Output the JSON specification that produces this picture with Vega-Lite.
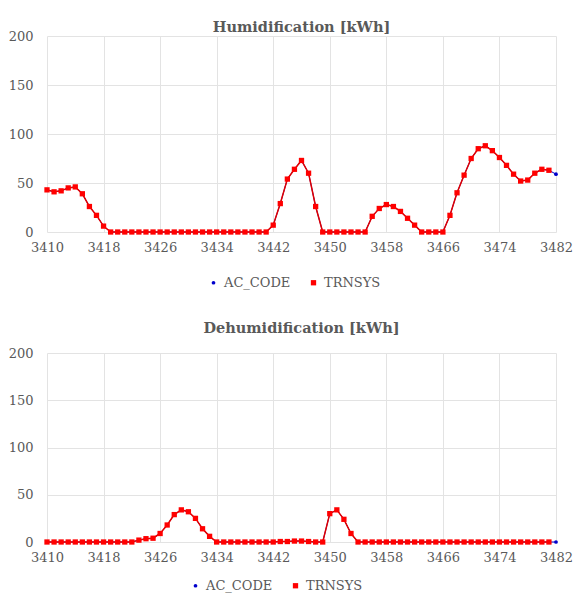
{
  "$schema": "https://vega.github.io/schema/vega-lite/v6.json",
  "background": "white",
  "padding": {"left": 8, "top": 19, "right": 18, "bottom": 4},
  "spacing": 30,
  "config": {
    "font": "DejaVu Serif",
    "view": {"stroke": null},
    "axis": {"labelFont": "DejaVu Serif", "labelFontSize": 13, "labelColor": "#595959", "ticks": false, "gridColor": "#e3e3e3", "gridWidth": 1, "title": null, "labelFlush": false},
    "legend": {"labelFont": "DejaVu Serif", "labelFontSize": 13, "labelColor": "#595959"},
    "title": {"font": "DejaVu Serif", "fontSize": 14.5, "fontWeight": "bold", "color": "#595959", "anchor": "middle"}
  },
  "datasets": {
    "hum": [
      {"h":3410,"AC_CODE":43,"TRNSYS":43},{"h":3411,"AC_CODE":41,"TRNSYS":41},{"h":3412,"AC_CODE":42,"TRNSYS":42},{"h":3413,"AC_CODE":45,"TRNSYS":45},
      {"h":3414,"AC_CODE":46,"TRNSYS":46},{"h":3415,"AC_CODE":39,"TRNSYS":39},{"h":3416,"AC_CODE":26,"TRNSYS":26},{"h":3417,"AC_CODE":17,"TRNSYS":17},
      {"h":3418,"AC_CODE":6,"TRNSYS":6},{"h":3419,"AC_CODE":0,"TRNSYS":0},{"h":3420,"AC_CODE":0,"TRNSYS":0},{"h":3421,"AC_CODE":0,"TRNSYS":0},
      {"h":3422,"AC_CODE":0,"TRNSYS":0},{"h":3423,"AC_CODE":0,"TRNSYS":0},{"h":3424,"AC_CODE":0,"TRNSYS":0},{"h":3425,"AC_CODE":0,"TRNSYS":0},
      {"h":3426,"AC_CODE":0,"TRNSYS":0},{"h":3427,"AC_CODE":0,"TRNSYS":0},{"h":3428,"AC_CODE":0,"TRNSYS":0},{"h":3429,"AC_CODE":0,"TRNSYS":0},
      {"h":3430,"AC_CODE":0,"TRNSYS":0},{"h":3431,"AC_CODE":0,"TRNSYS":0},{"h":3432,"AC_CODE":0,"TRNSYS":0},{"h":3433,"AC_CODE":0,"TRNSYS":0},
      {"h":3434,"AC_CODE":0,"TRNSYS":0},{"h":3435,"AC_CODE":0,"TRNSYS":0},{"h":3436,"AC_CODE":0,"TRNSYS":0},{"h":3437,"AC_CODE":0,"TRNSYS":0},
      {"h":3438,"AC_CODE":0,"TRNSYS":0},{"h":3439,"AC_CODE":0,"TRNSYS":0},{"h":3440,"AC_CODE":0,"TRNSYS":0},{"h":3441,"AC_CODE":0,"TRNSYS":0},
      {"h":3442,"AC_CODE":7,"TRNSYS":7},{"h":3443,"AC_CODE":29,"TRNSYS":29},{"h":3444,"AC_CODE":54,"TRNSYS":54},{"h":3445,"AC_CODE":64,"TRNSYS":64},
      {"h":3446,"AC_CODE":73,"TRNSYS":73},{"h":3447,"AC_CODE":60,"TRNSYS":60},{"h":3448,"AC_CODE":26,"TRNSYS":26},{"h":3449,"AC_CODE":0,"TRNSYS":0},
      {"h":3450,"AC_CODE":0,"TRNSYS":0},{"h":3451,"AC_CODE":0,"TRNSYS":0},{"h":3452,"AC_CODE":0,"TRNSYS":0},{"h":3453,"AC_CODE":0,"TRNSYS":0},
      {"h":3454,"AC_CODE":0,"TRNSYS":0},{"h":3455,"AC_CODE":0,"TRNSYS":0},{"h":3456,"AC_CODE":16,"TRNSYS":16},{"h":3457,"AC_CODE":24,"TRNSYS":24},
      {"h":3458,"AC_CODE":28,"TRNSYS":28},{"h":3459,"AC_CODE":26,"TRNSYS":26},{"h":3460,"AC_CODE":21,"TRNSYS":21},{"h":3461,"AC_CODE":14,"TRNSYS":14},
      {"h":3462,"AC_CODE":7,"TRNSYS":7},{"h":3463,"AC_CODE":0,"TRNSYS":0},{"h":3464,"AC_CODE":0,"TRNSYS":0},{"h":3465,"AC_CODE":0,"TRNSYS":0},
      {"h":3466,"AC_CODE":0,"TRNSYS":0},{"h":3467,"AC_CODE":17,"TRNSYS":17},{"h":3468,"AC_CODE":40,"TRNSYS":40},{"h":3469,"AC_CODE":58,"TRNSYS":58},
      {"h":3470,"AC_CODE":75,"TRNSYS":75},{"h":3471,"AC_CODE":85,"TRNSYS":85},{"h":3472,"AC_CODE":88,"TRNSYS":88},{"h":3473,"AC_CODE":83,"TRNSYS":83},
      {"h":3474,"AC_CODE":76,"TRNSYS":76},{"h":3475,"AC_CODE":68,"TRNSYS":68},{"h":3476,"AC_CODE":59,"TRNSYS":59},{"h":3477,"AC_CODE":52,"TRNSYS":52},
      {"h":3478,"AC_CODE":53,"TRNSYS":53},{"h":3479,"AC_CODE":60,"TRNSYS":60},{"h":3480,"AC_CODE":64,"TRNSYS":64},{"h":3481,"AC_CODE":63,"TRNSYS":63},
      {"h":3482,"AC_CODE":59,"TRNSYS":null}
    ],
    "dehum": [
      {"h":3410,"AC_CODE":0,"TRNSYS":0},{"h":3411,"AC_CODE":0,"TRNSYS":0},{"h":3412,"AC_CODE":0,"TRNSYS":0},{"h":3413,"AC_CODE":0,"TRNSYS":0},
      {"h":3414,"AC_CODE":0,"TRNSYS":0},{"h":3415,"AC_CODE":0,"TRNSYS":0},{"h":3416,"AC_CODE":0,"TRNSYS":0},{"h":3417,"AC_CODE":0,"TRNSYS":0},
      {"h":3418,"AC_CODE":0,"TRNSYS":0},{"h":3419,"AC_CODE":0,"TRNSYS":0},{"h":3420,"AC_CODE":0,"TRNSYS":0},{"h":3421,"AC_CODE":0,"TRNSYS":0},
      {"h":3422,"AC_CODE":0,"TRNSYS":0},{"h":3423,"AC_CODE":2,"TRNSYS":2},{"h":3424,"AC_CODE":3.5,"TRNSYS":3.5},{"h":3425,"AC_CODE":4,"TRNSYS":4},
      {"h":3426,"AC_CODE":9,"TRNSYS":9},{"h":3427,"AC_CODE":18,"TRNSYS":18},{"h":3428,"AC_CODE":29,"TRNSYS":29},{"h":3429,"AC_CODE":34,"TRNSYS":34},
      {"h":3430,"AC_CODE":32,"TRNSYS":32},{"h":3431,"AC_CODE":25,"TRNSYS":25},{"h":3432,"AC_CODE":14,"TRNSYS":14},{"h":3433,"AC_CODE":6,"TRNSYS":6},
      {"h":3434,"AC_CODE":0,"TRNSYS":0},{"h":3435,"AC_CODE":0,"TRNSYS":0},{"h":3436,"AC_CODE":0,"TRNSYS":0},{"h":3437,"AC_CODE":0,"TRNSYS":0},
      {"h":3438,"AC_CODE":0,"TRNSYS":0},{"h":3439,"AC_CODE":0,"TRNSYS":0},{"h":3440,"AC_CODE":0,"TRNSYS":0},{"h":3441,"AC_CODE":0,"TRNSYS":0},
      {"h":3442,"AC_CODE":0,"TRNSYS":0},{"h":3443,"AC_CODE":0.5,"TRNSYS":0.5},{"h":3444,"AC_CODE":0.5,"TRNSYS":0.5},{"h":3445,"AC_CODE":1,"TRNSYS":1},
      {"h":3446,"AC_CODE":1,"TRNSYS":1},{"h":3447,"AC_CODE":0.5,"TRNSYS":0.5},{"h":3448,"AC_CODE":0,"TRNSYS":0},{"h":3449,"AC_CODE":0,"TRNSYS":0},
      {"h":3450,"AC_CODE":30,"TRNSYS":30},{"h":3451,"AC_CODE":34,"TRNSYS":34},{"h":3452,"AC_CODE":24,"TRNSYS":24},{"h":3453,"AC_CODE":9,"TRNSYS":9},
      {"h":3454,"AC_CODE":0,"TRNSYS":0},{"h":3455,"AC_CODE":0,"TRNSYS":0},{"h":3456,"AC_CODE":0,"TRNSYS":0},{"h":3457,"AC_CODE":0,"TRNSYS":0},
      {"h":3458,"AC_CODE":0,"TRNSYS":0},{"h":3459,"AC_CODE":0,"TRNSYS":0},{"h":3460,"AC_CODE":0,"TRNSYS":0},{"h":3461,"AC_CODE":0,"TRNSYS":0},
      {"h":3462,"AC_CODE":0,"TRNSYS":0},{"h":3463,"AC_CODE":0,"TRNSYS":0},{"h":3464,"AC_CODE":0,"TRNSYS":0},{"h":3465,"AC_CODE":0,"TRNSYS":0},
      {"h":3466,"AC_CODE":0,"TRNSYS":0},{"h":3467,"AC_CODE":0,"TRNSYS":0},{"h":3468,"AC_CODE":0,"TRNSYS":0},{"h":3469,"AC_CODE":0,"TRNSYS":0},
      {"h":3470,"AC_CODE":0,"TRNSYS":0},{"h":3471,"AC_CODE":0,"TRNSYS":0},{"h":3472,"AC_CODE":0,"TRNSYS":0},{"h":3473,"AC_CODE":0,"TRNSYS":0},
      {"h":3474,"AC_CODE":0,"TRNSYS":0},{"h":3475,"AC_CODE":0,"TRNSYS":0},{"h":3476,"AC_CODE":0,"TRNSYS":0},{"h":3477,"AC_CODE":0,"TRNSYS":0},
      {"h":3478,"AC_CODE":0,"TRNSYS":0},{"h":3479,"AC_CODE":0,"TRNSYS":0},{"h":3480,"AC_CODE":0,"TRNSYS":0},{"h":3481,"AC_CODE":0,"TRNSYS":0},
      {"h":3482,"AC_CODE":0,"TRNSYS":null}
    ]
  },
  "resolve": {"scale": {"color": "independent", "shape": "independent", "size": "independent"}, "legend": {"color": "independent", "shape": "independent"}},
  "vconcat": [
    {
      "title": {"text": "Humidification [kWh]", "offset": -5},
      "width": 509,
      "height": 196,
      "data": {"name": "hum"},
      "transform": [{"fold": ["AC_CODE", "TRNSYS"], "as": ["series", "value"]}, {"filter": "isValid(datum.value)"}],
      "encoding": {
        "x": {"field": "h", "type": "quantitative", "scale": {"domain": [3410, 3482], "nice": false, "zero": false},
              "axis": {"values": [3410,3418,3426,3434,3442,3450,3458,3466,3474,3482], "format": "d", "domain": false, "labelPadding": 9}},
        "y": {"field": "value", "type": "quantitative", "scale": {"domain": [0, 200], "nice": false},
              "axis": {"values": [0,50,100,150,200], "domain": false, "labelPadding": 14}}
      },
      "layer": [
        {"transform": [{"filter": "datum.series == 'AC_CODE'"}], "mark": {"type": "line", "color": "#0000cc", "strokeWidth": 1}},
        {"transform": [{"filter": "datum.series == 'TRNSYS'"}], "mark": {"type": "line", "color": "#e00000", "strokeWidth": 1.5}},
        {"mark": {"type": "point", "filled": true, "opacity": 1},
         "encoding": {
           "color": {"field": "series", "type": "nominal", "scale": {"domain": ["AC_CODE", "TRNSYS"], "range": ["#0000cc", "#ff0000"]},
                     "legend": {"orient": "none", "legendX": 160, "legendY": 240, "direction": "horizontal", "title": null, "symbolSize": 22, "columnPadding": 16}},
           "shape": {"field": "series", "type": "nominal", "scale": {"domain": ["AC_CODE", "TRNSYS"], "range": ["circle", "square"]}},
           "size": {"field": "series", "type": "nominal", "scale": {"domain": ["AC_CODE", "TRNSYS"], "range": [14, 28]}, "legend": null}
         }}
      ]
    },
    {
      "title": {"text": "Dehumidification [kWh]", "offset": 11},
      "width": 509,
      "height": 189,
      "data": {"name": "dehum"},
      "transform": [{"fold": ["AC_CODE", "TRNSYS"], "as": ["series", "value"]}, {"filter": "isValid(datum.value)"}],
      "encoding": {
        "x": {"field": "h", "type": "quantitative", "scale": {"domain": [3410, 3482], "nice": false, "zero": false},
              "axis": {"values": [3410,3418,3426,3434,3442,3450,3458,3466,3474,3482], "format": "d", "domain": false, "labelPadding": 9}},
        "y": {"field": "value", "type": "quantitative", "scale": {"domain": [0, 200], "nice": false},
              "axis": {"values": [0,50,100,150,200], "domain": false, "labelPadding": 14}}
      },
      "layer": [
        {"transform": [{"filter": "datum.series == 'AC_CODE'"}], "mark": {"type": "line", "color": "#0000cc", "strokeWidth": 1}},
        {"transform": [{"filter": "datum.series == 'TRNSYS'"}], "mark": {"type": "line", "color": "#e00000", "strokeWidth": 1.5}},
        {"mark": {"type": "point", "filled": true, "opacity": 1},
         "encoding": {
           "color": {"field": "series", "type": "nominal", "scale": {"domain": ["AC_CODE", "TRNSYS"], "range": ["#0000cc", "#ff0000"]},
                     "legend": {"orient": "none", "legendX": 142, "legendY": 226, "direction": "horizontal", "title": null, "symbolSize": 22, "columnPadding": 16}},
           "shape": {"field": "series", "type": "nominal", "scale": {"domain": ["AC_CODE", "TRNSYS"], "range": ["circle", "square"]}},
           "size": {"field": "series", "type": "nominal", "scale": {"domain": ["AC_CODE", "TRNSYS"], "range": [14, 28]}, "legend": null}
         }}
      ]
    }
  ]
}
